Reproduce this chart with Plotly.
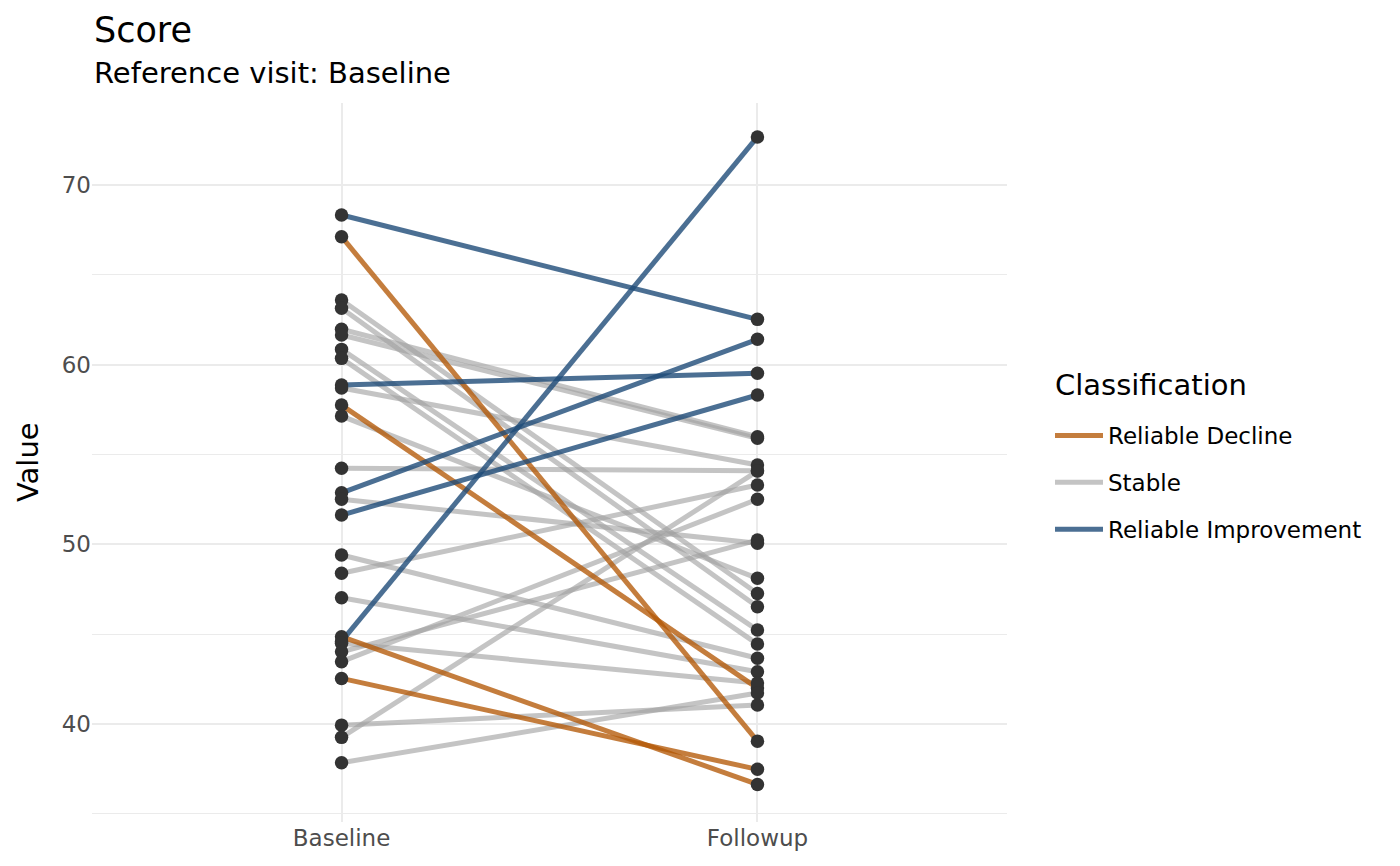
import plotly.graph_objects as go

# ---- data ----
visits = ["Baseline", "Followup"]
classes = ["Reliable Decline", "Stable", "Reliable Improvement"]

baseline = [68.33, 58.87, 52.87, 51.63, 44.60,
            67.12, 57.75, 44.86, 42.54,
            63.60, 63.14, 61.97, 61.65, 60.85, 60.35, 58.70, 57.14, 54.23, 52.51,
            49.41, 48.39, 47.03, 44.50, 44.02, 43.47, 39.94, 39.26, 37.85]
followup = [62.52, 59.52, 61.41, 58.31, 72.67,
            39.05, 42.00, 36.64, 37.48,
            47.27, 46.53, 55.99, 55.90, 45.23, 44.45, 54.42, 48.11, 54.10, 50.06,
            43.66, 53.30, 42.91, 42.28, 50.24, 52.51, 41.06, 54.08, 41.73]
classification = (["Reliable Improvement"] * 5 + ["Reliable Decline"] * 4 + ["Stable"] * 19)

colors = {
    "Reliable Decline": "rgba(179,88,6,0.78)",
    "Stable": "rgba(160,160,160,0.62)",
    "Reliable Improvement": "rgba(30,75,120,0.8)",
}
rank = {"Reliable Decline": 1, "Stable": 2, "Reliable Improvement": 3}
draw_order = ["Stable", "Reliable Decline", "Reliable Improvement"]

FONT = "DejaVu Sans"
# page body has an 8px margin; compensate so the plot lands where intended
W, H = 1392, 858
L, T, PW, PH = 84, 95, 915, 719
fig = go.Figure()

for cls in draw_order:
    xs, ys = [], []
    for b, f, c in zip(baseline, followup, classification):
        if c == cls:
            xs += [1, 2, None]
            ys += [b, f, None]
    fig.add_trace(go.Scatter(
        x=xs, y=ys, mode="lines", name=cls, legendgroup=cls, legendrank=rank[cls],
        line=dict(color=colors[cls], width=5), connectgaps=False, hoverinfo="skip",
    ))

fig.add_trace(go.Scatter(
    x=[1] * len(baseline) + [2] * len(followup),
    y=baseline + followup,
    mode="markers", showlegend=False,
    marker=dict(color="#333333", size=13.5),
))


def py(p):
    """page pixel y (reference coords) -> paper y"""
    return (T + 8 + PH - p) / PH


def px(p):
    return (p - 8 - L) / PW


fig.update_layout(
    width=W, height=H,
    margin=dict(l=L, r=W - L - PW, t=T, b=H - T - PH),
    paper_bgcolor="white", plot_bgcolor="white",
    font=dict(family=FONT, color="black"),
    showlegend=True,
    legend=dict(
        font=dict(size=23, color="black"),
        x=px(1050), xanchor="left", y=py(414), yanchor="top",
        traceorder="grouped", tracegroupgap=14,
        itemwidth=48, bgcolor="rgba(0,0,0,0)",
    ),
    annotations=[
        dict(text="Score", xref="paper", yref="paper", x=0, y=py(30),
             xanchor="left", yanchor="middle", showarrow=False,
             font=dict(size=35, color="black")),
        dict(text="Reference visit: Baseline", xref="paper", yref="paper", x=0,
             y=py(73.5), xanchor="left", yanchor="middle", showarrow=False,
             font=dict(size=29, color="black")),
        dict(text="Classification", xref="paper", yref="paper", x=px(1053),
             y=py(385), xanchor="left", yanchor="middle", showarrow=False,
             font=dict(size=29, color="black")),
        dict(text="Value", xref="paper", yref="paper", x=px(28), y=py(462),
             xanchor="center", yanchor="middle", textangle=-90, showarrow=False,
             font=dict(size=29, color="black")),
    ],
)

fig.update_xaxes(
    range=[0.4, 2.6], tickvals=[1, 2], ticktext=visits,
    showgrid=True, gridcolor="#ebebeb", gridwidth=2, zeroline=False,
    showline=False, ticks="", tickfont=dict(size=23, color="#4d4d4d"),
)
fig.update_yaxes(
    range=[34.55, 74.56], tickvals=[40, 50, 60, 70],
    showgrid=True, gridcolor="#ebebeb", gridwidth=2, zeroline=False,
    showline=False, ticks="", tickfont=dict(size=23, color="#4d4d4d"),
    minor=dict(tickvals=[35, 45, 55, 65], showgrid=True, gridcolor="#ebebeb", gridwidth=1),
)

fig.write_html("out.html")
